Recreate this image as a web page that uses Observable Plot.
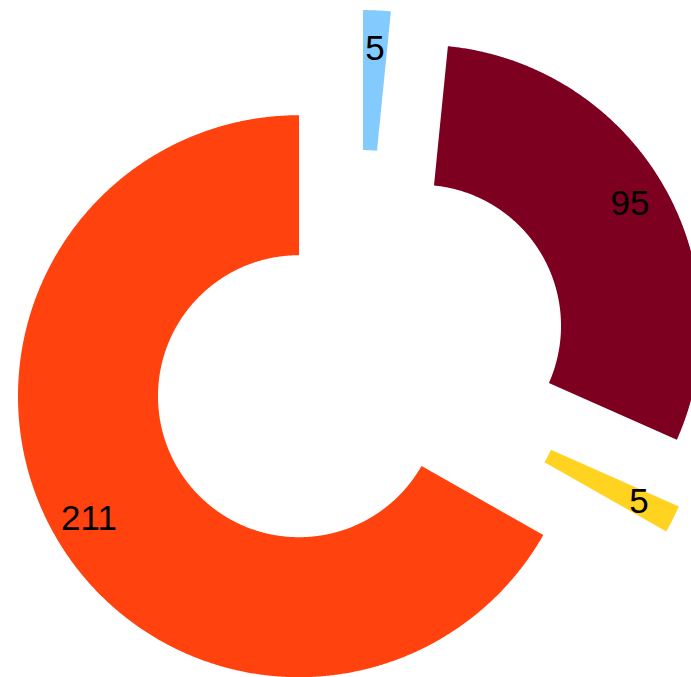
<!DOCTYPE html>
<html><head><meta charset="utf-8">
<script src="https://cdn.jsdelivr.net/npm/d3@7"></script>
<script src="https://cdn.jsdelivr.net/npm/@observablehq/plot@0.6"></script>
<style>html,body{margin:0;padding:0;background:#fff;overflow:hidden}</style>
</head><body><div id="chart"></div>
<script>
const categories = ["A", "B", "C", "D"];
const values = [5, 95, 5, 211];
const colors = ["#83caff", "#7e0021", "#ffd320", "#ff420e"];
const labels = ["5", "95", "5", "211"];

const W = 691, H = 677;
const cx = 359, cy = 360.5, rInner = 141, rOuter = 281, explode = 70, rLabel = 243;

const arcs = d3.pie().sort(null).value(d => d.value)(
  categories.map((c, i) => ({category: c, value: values[i], color: colors[i], label: labels[i]}))
);
const polys = [];
const labelPts = [];
for (const a of arcs) {
  const mid = (a.startAngle + a.endAngle) / 2;
  const ox = cx + explode * Math.sin(mid), oy = cy - explode * Math.cos(mid);
  const n = Math.max(2, Math.ceil((a.endAngle - a.startAngle) / 0.005));
  const ring = [];
  for (let k = 0; k <= n; k++) {
    const t = a.startAngle + (a.endAngle - a.startAngle) * k / n;
    ring.push([ox + rOuter * Math.sin(t), oy - rOuter * Math.cos(t)]);
  }
  for (let k = n; k >= 0; k--) {
    const t = a.startAngle + (a.endAngle - a.startAngle) * k / n;
    ring.push([ox + rInner * Math.sin(t), oy - rInner * Math.cos(t)]);
  }
  ring.forEach(([x, y]) => polys.push({category: a.data.category, color: a.data.color, x, y}));
  labelPts.push({x: ox + rLabel * Math.sin(mid), y: oy - rLabel * Math.cos(mid), text: a.data.label});
}

const chart = Plot.plot({
  width: W, height: H, margin: 0,
  style: {background: "#fff"},
  x: {domain: [0, W], range: [0, W], axis: null},
  y: {domain: [0, H], range: [0, H], axis: null},
  color: {type: "identity"},
  marks: [
    Plot.line(polys, {x: "x", y: "y", z: "category", fill: "color", stroke: "none"}),
    Plot.text(labelPts, {x: "x", y: "y", text: "text", fontSize: 35, fontFamily: "Liberation Sans, Arial, sans-serif", fill: "black"})
  ]
});
document.getElementById("chart").appendChild(chart);
</script>
</body></html>
